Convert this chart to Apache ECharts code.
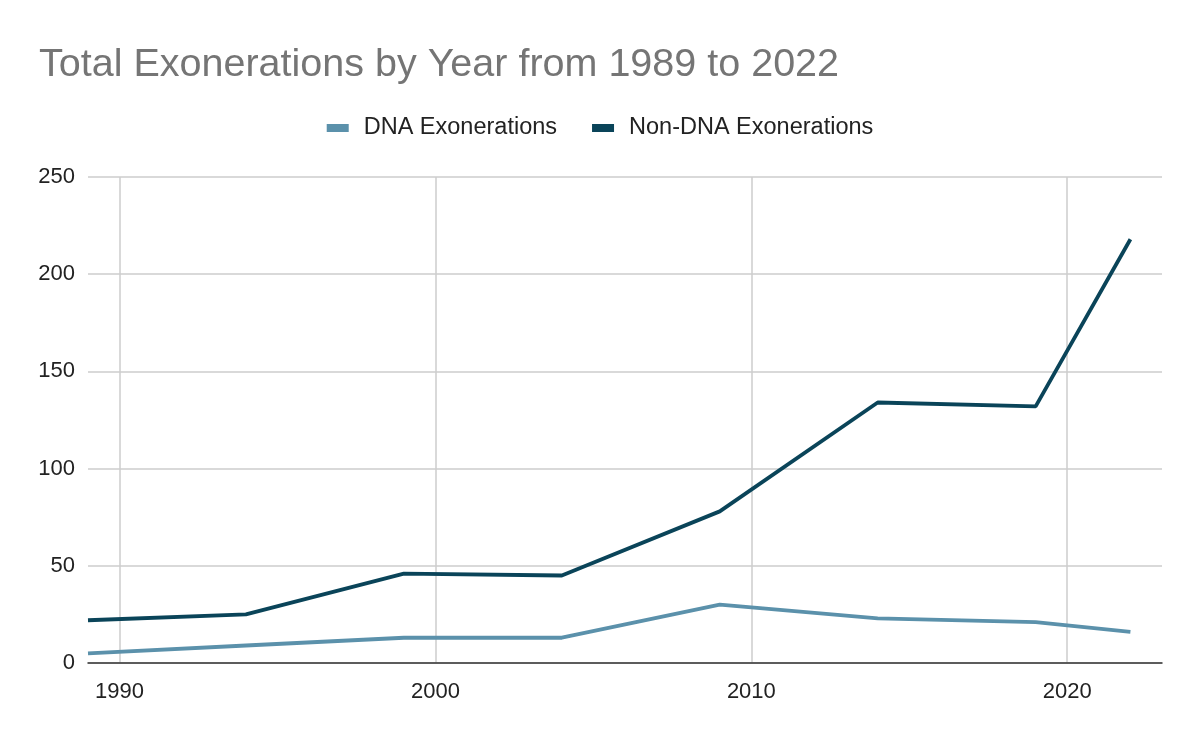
<!DOCTYPE html>
<html><head><meta charset="utf-8">
<script src="https://cdn.jsdelivr.net/npm/echarts@6/dist/echarts.min.js"></script>
<style>html,body{margin:0;padding:0;background:#fff}#c{width:1200px;height:742px}</style>
</head><body><div id="c"></div>
<script>
const years = [1989, 1994, 1999, 2004, 2009, 2014, 2019, 2022];
const dnaValues = [5, 9, 13, 13, 30, 23, 21, 16];
const nonDnaValues = [22, 25, 46, 45, 78, 134, 132, 218];
const xTickValues = [1990, 2000, 2010, 2020];

const chart = echarts.init(document.getElementById('c'));
chart.setOption({
  backgroundColor: '#fff',
  animation: false,
  title: {
    text: 'Total Exonerations by Year from 1989 to 2022',
    left: 34, top: 40,
    textStyle: {fontFamily: 'Liberation Sans', fontSize: 39.5, fontWeight: 'normal', color: '#757575'}
  },
  legend: {
    top: 111, left: 'center',
    itemWidth: 22, itemHeight: 8, itemGap: 35,
    icon: 'rect',
    textStyle: {fontFamily: 'Liberation Sans', fontSize: 23.5, color: '#222', padding: [0, 0, 0, 10]},
    data: ['DNA Exonerations', 'Non-DNA Exonerations']
  },
  grid: {left: 88, right: 38, top: 177, bottom: 79, containLabel: false},
  xAxis: {
    type: 'value', min: 1989, max: 2023,
    axisLine: {show: true, onZero: false, lineStyle: {color: '#333', width: 1.5}},
    axisTick: {show: false, customValues: xTickValues},
    axisLabel: {customValues: xTickValues, formatter: v => String(v),
      fontFamily: 'Liberation Sans', fontSize: 22, color: '#222', margin: 18},
    splitLine: {show: true, lineStyle: {color: '#cccccc', width: 1.5}}
  },
  yAxis: {
    type: 'value', min: 0, max: 250, interval: 50,
    axisLine: {show: false}, axisTick: {show: false},
    axisLabel: {fontFamily: 'Liberation Sans', fontSize: 22, color: '#222', margin: 13},
    splitLine: {show: true, lineStyle: {color: '#cccccc', width: 1.5}}
  },
  series: [
    {name: 'DNA Exonerations', type: 'line', symbol: 'none', color: '#5b91ab',
     lineStyle: {width: 3.8}, data: years.map((y, i) => [y, dnaValues[i]])},
    {name: 'Non-DNA Exonerations', type: 'line', symbol: 'none', color: '#0a4459',
     lineStyle: {width: 3.8}, data: years.map((y, i) => [y, nonDnaValues[i]])}
  ]
});
</script></body></html>
